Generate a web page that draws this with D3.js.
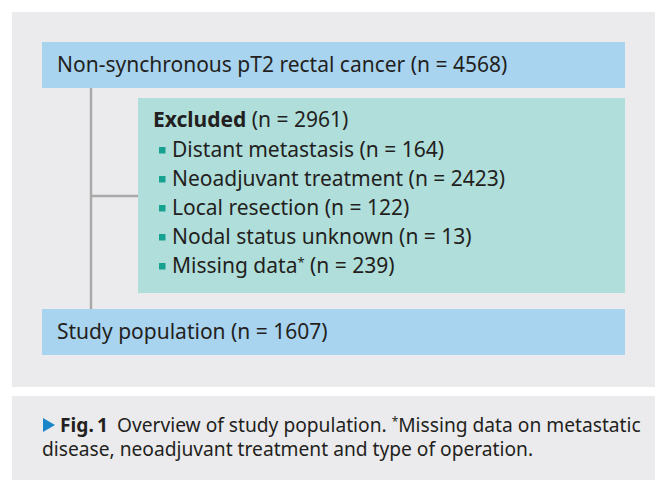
<!DOCTYPE html>
<html>
<head>
<meta charset="utf-8">
<script src="https://cdn.jsdelivr.net/npm/d3@7"></script>
<style>
  body { margin: 0; background: #fff; }
  text { font-family: "Noto Sans", "Open Sans", sans-serif; fill: #231f20; }
</style>
</head>
<body>
<svg id="chart" width="657" height="480"></svg>
<script>
"use strict";

// flow chart content
var totalLabel = "Non-synchronous pT2 rectal cancer";
var totalCount = 4568;
var excludedLabel = "Excluded";
var excludedCount = 2961;
var reasons = ["Distant metastasis", "Neoadjuvant treatment", "Local resection", "Nodal status unknown", "Missing data*"];
var reasonCounts = [164, 2423, 122, 13, 239];
var studyLabel = "Study population";
var studyCount = 1607;
var captionTitle = "Fig.\u20091";
var captionLines = ["Overview of study population. *Missing data on metastatic",
                    "disease, neoadjuvant treatment and type of operation."];

var svg = d3.select("#chart");

var colors = {
    panel: "#ebebed",
    blue: "#a8d4f0",
    teal: "#b0dedb",
    line: "#a9a9a9",
    bullet: "#17a190",
    arrow: "#1a86c8"
};

// background panels
svg.append("rect").attr("x", 12).attr("y", 12).attr("width", 643).attr("height", 375)
    .attr("fill", colors.panel);
svg.append("rect").attr("x", 12).attr("y", 396).attr("width", 643).attr("height", 84)
    .attr("fill", colors.panel);

// connectors
svg.append("line").attr("x1", 91).attr("x2", 91).attr("y1", 88).attr("y2", 309)
    .attr("stroke", colors.line).attr("stroke-width", 2.5);
svg.append("line").attr("x1", 91).attr("x2", 138).attr("y1", 196).attr("y2", 196)
    .attr("stroke", colors.line).attr("stroke-width", 2.5);

function nText(n) { return "(n = " + n + ")"; }

// add text, with a "*" rendered as a raised smaller star
function starText(sel, s, size) {
    var parts = s.split("*");
    parts.forEach(function (p, i) {
        if (i > 0) {
            sel.append("tspan").attr("dy", -size * 0.3).style("font-size", (size * 0.62) + "px").text("*");
            sel.append("tspan").attr("dy", size * 0.3).text(p);
        } else {
            sel.append("tspan").text(p);
        }
    });
}

var fs = 21;

// top box
svg.append("rect").attr("x", 42).attr("y", 42).attr("width", 583).attr("height", 46)
    .attr("fill", colors.blue);
svg.append("text").attr("x", 57).attr("y", 71.5).style("font-size", fs + "px")
    .text(totalLabel + " " + nText(totalCount));

// excluded box
svg.append("rect").attr("x", 138).attr("y", 98).attr("width", 487).attr("height", 195)
    .attr("fill", colors.teal);
var ex = svg.append("text").attr("x", 153).attr("y", 127).style("font-size", fs + "px");
ex.append("tspan").style("font-weight", "bold").text(excludedLabel);
ex.append("tspan").text(" " + nText(excludedCount));

var y = d3.scalePoint().domain(reasons).range([157, 273]);
var items = svg.selectAll("g.reason").data(reasons).enter().append("g")
    .attr("class", "reason")
    .attr("transform", function (d) { return "translate(0," + y(d) + ")"; });
items.append("rect").attr("x", 159).attr("y", -10).attr("width", 6.5).attr("height", 6.5)
    .attr("fill", colors.bullet);
items.append("text").attr("x", 172).attr("y", 0).style("font-size", fs + "px")
    .each(function (d, i) {
        starText(d3.select(this), d + " " + nText(reasonCounts[i]), fs);
    });

// bottom box
svg.append("rect").attr("x", 42).attr("y", 309).attr("width", 583).attr("height", 46)
    .attr("fill", colors.blue);
svg.append("text").attr("x", 57).attr("y", 338.5).style("font-size", fs + "px")
    .text(studyLabel + " " + nText(studyCount));

// caption
var cfs = 19.2;
svg.append("path").attr("d", "M43,418 L55,425 L43,432 Z").attr("fill", colors.arrow);
var cap = svg.append("text").attr("x", 60).attr("y", 431.5).style("font-size", cfs + "px");
cap.append("tspan").style("font-weight", "bold").text(captionTitle);
cap.append("tspan").attr("dx", 9).text(captionLines[0].split("*")[0]);
cap.append("tspan").attr("dy", -cfs * 0.3).style("font-size", (cfs * 0.62) + "px").text("*");
cap.append("tspan").attr("dy", cfs * 0.3).text(captionLines[0].split("*")[1]);
svg.append("text").attr("x", 42).attr("y", 456).style("font-size", cfs + "px").text(captionLines[1]);
</script>
</body>
</html>
